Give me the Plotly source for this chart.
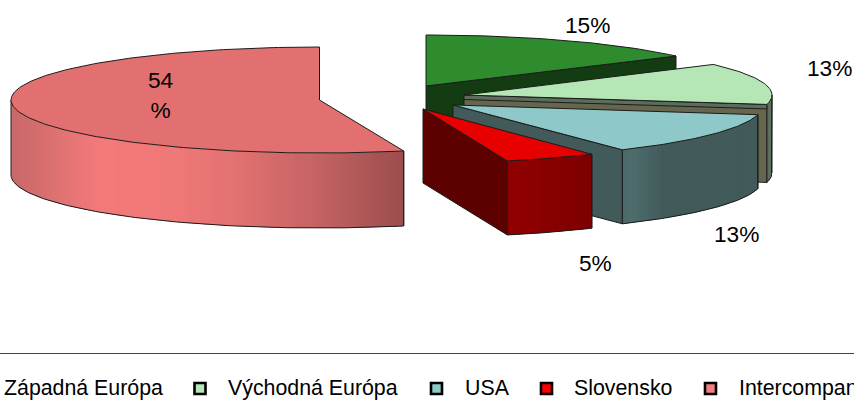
import math
import plotly.graph_objects as go

# ---- data ----
categories = ["Západná Európa", "Východná Európa", "USA", "Slovensko", "Intercompany"]
values = [15.0, 12.9, 12.9, 4.8, 54.4]

# ---- styles / layout of the exploded pseudo-3D pie ----
apex = [(426, 86), (464, 95), (453, 105), (423, 109), (319.5, 100)]
radii = [(309, 51), (308, 52), (310, 53.5), (309, 54), (308.5, 53)]
depth = [75, 78, 74, 74, 75]
top_col = ["#2e8b2e", "#b5e6b5", "#8ec8c8", "#e60000", "#e27070"]
face_col = ["#133c13", "#66664f", "#425a5a", "#5c0000", "#a05050"]
wall_stops = [
    [(0, "#2e8b2e"), (1, "#2e8b2e")],
    [(-1, "#5b6e5b"), (1, "#5b6e5b")],
    [(0.5, "#4a6767"), (0.58, "#4d6c6c"), (0.68, "#425a5a"), (1, "#425a5a")],
    [(0, "#7a0000"), (0.1, "#8b0000"), (0.3, "#900000"), (0.6, "#7a0000")],
    [(-1, "#c86868"), (-0.72, "#f27a7a"), (-0.48, "#f07878"), (-0.3, "#e57373"),
     (0, "#c46262"), (0.27, "#9c4e4e")],
]
legend_marker_col = ["#2e8b2e", "#b5e6b5", "#8ec8c8", "#ff0000", "#f08080"]
label_pos = [(587, 24.5), (829, 67.5), (736, 233.5), (595, 262.5), (160, 94.5)]
legend_marker_x = [-34, 200, 436.5, 546.5, 710.5]
legend_text_x = [2, 226, 463, 572, 736.5]
EDGE = "#1c1c1c"
FONT = "Liberation Sans"
FS_LEGEND = 21.33
FS_LABEL = 22.7


def hex2rgb(h):
    return tuple(int(h[i:i + 2], 16) for i in (1, 3, 5))


def wall_colour(stops, s):
    if s <= stops[0][0]:
        return stops[0][1]
    for (a, ca), (b, cb) in zip(stops, stops[1:]):
        if s <= b:
            t = (s - a) / (b - a)
            c = [round(u + (v - u) * t) for u, v in zip(hex2rgb(ca), hex2rgb(cb))]
            return f"rgb({c[0]},{c[1]},{c[2]})"
    return stops[-1][1]


fig = go.Figure()


def poly(xs, ys, fill=None, line=EDGE, width=1.0, close=True):
    if close:
        xs, ys = list(xs) + [xs[0]], list(ys) + [ys[0]]
    fig.add_trace(go.Scatter(
        x=xs, y=ys, mode="lines", hoverinfo="skip", showlegend=False,
        fill="toself" if fill else None, fillcolor=fill,
        line=dict(color=line or fill, width=width)))


total = sum(values)
cum = 0.0
for i, v in enumerate(values):
    a0 = cum / total * 2 * math.pi
    cum += v
    a1 = cum / total * 2 * math.pi
    ax, ay = apex[i]
    rx, ry = radii[i]
    d = depth[i]
    pt = lambda t: (ax + rx * math.sin(t), ay - ry * math.cos(t))
    n = max(8, int((a1 - a0) * 60))
    angs = [a0 + (a1 - a0) * k / n for k in range(n + 1)]
    arc = [pt(t) for t in angs]

    # inner face along the slice's end radius
    if a1 < math.pi:
        ex, ey = pt(a1)
        poly([ax, ex, ex, ax], [ay, ey, ey + d, ay + d], fill=face_col[i])

    # outer wall, shaded in overlapping strips where the rim faces the viewer
    w0, w1 = max(a0, math.pi / 2), min(a1, 3 * math.pi / 2)
    if w1 > w0:
        m = max(3, int((w1 - w0) * 70))
        ws = [w0 + (w1 - w0) * k / m for k in range(m + 1)]
        for k in range(m):
            p, q = ws[k], ws[min(k + 2, m)]
            sub = [p + (q - p) * j / 4 for j in range(5)]
            pts = [pt(t) for t in sub]
            c = wall_colour(wall_stops[i], math.sin((ws[k] + ws[k + 1]) / 2))
            poly([u[0] for u in pts] + [u[0] for u in reversed(pts)],
                 [u[1] for u in pts] + [u[1] + d for u in reversed(pts)],
                 fill=c, line=c, width=0)
        pts = [pt(t) for t in ws]
        poly([pts[0][0]] + [p[0] for p in pts] + [pts[-1][0]],
             [pts[0][1]] + [p[1] + d for p in pts] + [pts[-1][1]],
             close=False)
        x0, y0 = pts[0]
        poly([x0, x0], [y0, y0 + d], close=False)

    # thin lip under the light slice's cut edge
    if i == 1:
        ex, ey = pt(a1)
        poly([ax, ex, ex, ax], [ay, ey, ey + 4.5, ay + 4.5], fill=wall_stops[1][0][1])

    # top surface
    poly([ax] + [p[0] for p in arc], [ay] + [p[1] for p in arc], fill=top_col[i])

# percentage labels
for i, v in enumerate(values):
    x, y = label_pos[i]
    txt = f"{round(v)}%"
    if i == 4:
        txt = f"{round(v)}<br>%"
    fig.add_annotation(x=x, y=y, text=txt, showarrow=False, xanchor="center", yanchor="middle",
                       font=dict(family=FONT, size=FS_LABEL, color="#000000"))

# legend: rule, swatches, names
fig.add_shape(type="line", x0=0, x1=854, y0=353.5, y1=353.5, line=dict(color="#444444", width=1))
fig.add_trace(go.Scatter(
    x=legend_marker_x, y=[388.5] * 5, mode="markers", hoverinfo="skip", showlegend=False,
    marker=dict(symbol="square", size=11, color=legend_marker_col,
                line=dict(color="#000000", width=2.6))))
for name, x in zip(categories, legend_text_x):
    fig.add_annotation(x=x, y=388, text=name, showarrow=False, xanchor="left", yanchor="middle",
                       font=dict(family=FONT, size=FS_LEGEND, color="#000000"))

fig.update_layout(
    width=854, height=402, margin=dict(l=0, r=0, t=0, b=0),
    paper_bgcolor="#ffffff", plot_bgcolor="#ffffff", showlegend=False,
    xaxis=dict(range=[0, 854], visible=False, fixedrange=True),
    yaxis=dict(range=[402, 0], visible=False, fixedrange=True),
)
fig.write_html("out.html", config={"displayModeBar": False},
               post_script="document.body.style.margin='0';document.body.style.overflow='hidden';")
